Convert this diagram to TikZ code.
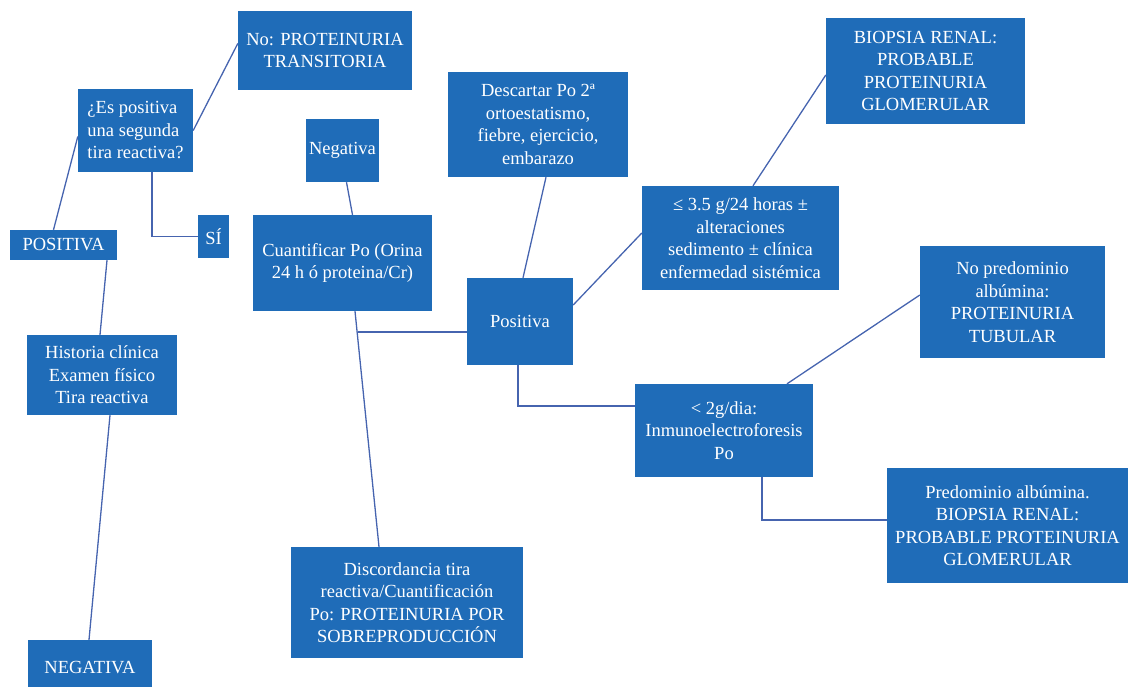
\documentclass[tikz,border=0pt]{standalone}
\usepackage{fontspec}
\setmainfont{Liberation Serif}
\definecolor{cajaazul}{RGB}{31,108,184}
\definecolor{lineaazul}{RGB}{70,100,175}

\begin{document}
\begin{tikzpicture}[x=1pt,y=-1pt,
  caja/.style={draw=none, fill=cajaazul, text=white, align=center, inner sep=0pt,
    font=\fontsize{18.5}{22.5}\selectfont},
  linea/.style={draw=lineaazul, line width=1.3pt}]
\useasboundingbox (0,0) rectangle (1129,686);
\clip (0,0) rectangle (1129,686);
\node[caja, minimum width=174, minimum height=79] (trans) at (325,50.5) {No: PROTEINURIA\\TRANSITORIA};
\node[caja, minimum width=115, minimum height=83, align=left] (segunda) at (135.5,130.5) {¿Es positiva\\una segunda\\tira reactiva?};
\node[caja, minimum width=73, minimum height=63] (neg) at (342.5,150.5) {Negativa};
\node[caja, minimum width=107, minimum height=30] (pos) at (63.5,245) {POSITIVA};
\node[caja, minimum width=31, minimum height=43] (si) at (213.5,236.5) {SÍ};
\node[caja, minimum width=179, minimum height=96] (cuant) at (342.5,263) {Cuantificar Po (Orina\\24 h ó proteina/Cr)};
\node[caja, minimum width=180, minimum height=105] (desc) at (538,124.5) {Descartar Po 2ª\\ortoestatismo,\\fiebre, ejercicio,\\embarazo};
\node[caja, minimum width=106, minimum height=87] (posit) at (520,321.5) {Positiva};
\node[caja, minimum width=197, minimum height=104] (menos) at (740.5,238) {≤ 3.5 g/24 horas ±\\alteraciones\\sedimento ± clínica\\enfermedad sistémica};
\node[caja, minimum width=199, minimum height=106] (biop) at (925.5,71) {BIOPSIA RENAL:\\PROBABLE\\PROTEINURIA\\GLOMERULAR};
\node[caja, minimum width=185, minimum height=112] (nopred) at (1012.5,302) {No predominio\\albúmina:\\PROTEINURIA\\TUBULAR};
\node[caja, minimum width=178, minimum height=93] (inmuno) at (724,430.5) {< 2g/dia:\\Inmunoelectroforesis\\Po};
\node[caja, minimum width=241, minimum height=115] (pred) at (1007.5,525.5) {Predominio albúmina.\\BIOPSIA RENAL:\\PROBABLE PROTEINURIA\\GLOMERULAR};
\node[caja, minimum width=150, minimum height=80] (hist) at (102,375) {Historia clínica\\Examen físico\\Tira reactiva};
\node[caja, minimum width=124, minimum height=56] (negat) at (90,668) {NEGATIVA};
\node[caja, minimum width=232, minimum height=111] (disc) at (407,602.5) {Discordancia tira\\reactiva/Cuantificación\\Po: PROTEINURIA POR\\SOBREPRODUCCIÓN};
\coordinate (ramal) at (357.5,332);
\path[linea] ([xshift=-10]pos.north) -- ([yshift=-6]segunda.west);
\path[linea] (segunda.east) -- ([yshift=7]trans.west);
\path[linea] ([xshift=16.5]segunda.south) |- (si.west);
\path[linea] ([xshift=43.5]pos.south) -- ([xshift=-2]hist.north);
\path[linea] ([xshift=8]hist.south) -- ([xshift=-1]negat.north);
\path[linea] ([xshift=4]neg.south) -- ([xshift=10]cuant.north);
\path[linea] ([xshift=12.5]cuant.south) -- ([xshift=-28]disc.north);
\path[linea] (ramal) -- ([yshift=-10.5]posit.west);
\path[linea] ([xshift=8]desc.south) -- ([xshift=3]posit.north);
\path[linea] ([yshift=16.5]posit.east) -- ([yshift=5]menos.west);
\path[linea] ([xshift=12.5]menos.north) -- ([yshift=-4]biop.west);
\path[linea] ([xshift=-2]posit.south) |- ([yshift=24.5]inmuno.west);
\path[linea] ([xshift=63]inmuno.north) -- ([yshift=7]nopred.west);
\path[linea] ([xshift=38]inmuno.south) |- ([yshift=5.5]pred.west);
\end{tikzpicture}
\end{document}
